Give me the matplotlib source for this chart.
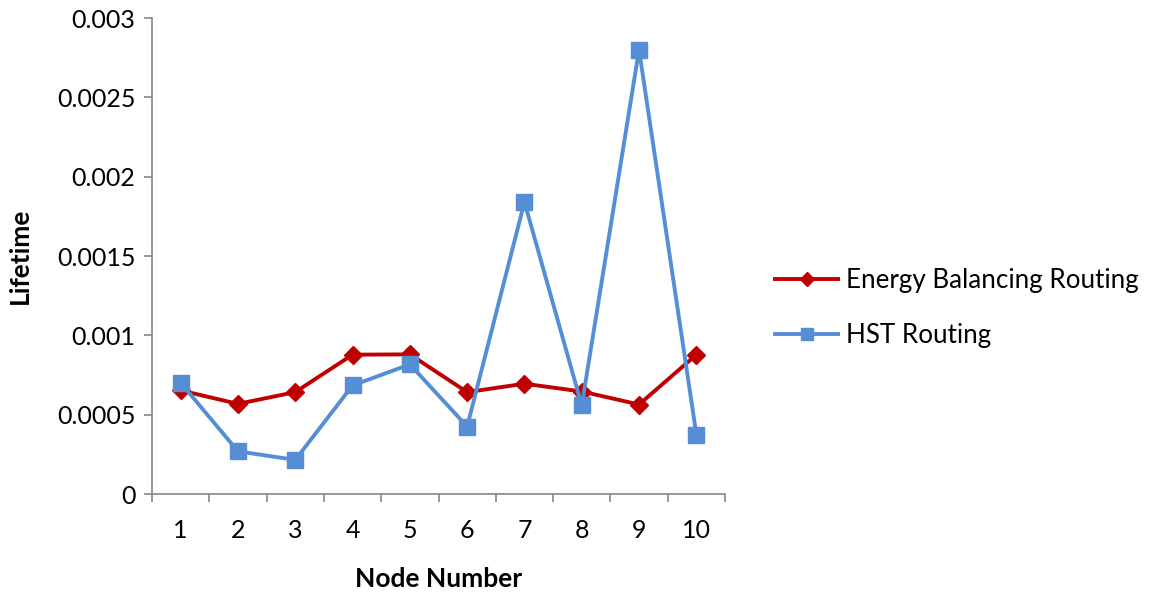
import numpy as np
import matplotlib
matplotlib.use("Agg")
import matplotlib.pyplot as plt
from matplotlib.ticker import FixedLocator, FixedFormatter

# data
nodes = [1, 2, 3, 4, 5, 6, 7, 8, 9, 10]
energy_balancing = [0.000653, 0.000568, 0.000642, 0.000878, 0.00088,
                    0.000642, 0.000695, 0.000646, 0.000564, 0.000878]
hst_routing = [0.000701, 0.000269, 0.000215, 0.000684, 0.000817,
               0.000425, 0.00184, 0.000558, 0.0028, 0.000375]
y_ticks = [0, 0.0005, 0.001, 0.0015, 0.002, 0.0025, 0.003]
y_tick_labels = ["0", "0.0005", "0.001", "0.0015", "0.002", "0.0025", "0.003"]

plt.rcParams['font.family'] = ['Lato', 'DejaVu Sans']

fig = plt.figure(figsize=(11.51, 5.92), dpi=100)
ax = fig.add_axes([152/1151, 98/592, (725-152)/1151, (494-18)/592])

red = "#C00000"
blue = "#558ED5"
grey = "#868686"

ax.plot(nodes, energy_balancing, color=red, lw=2.8, marker="D", ms=9,
        label="Energy Balancing Routing")
ax.plot(nodes, hst_routing, color=blue, lw=2.8, marker="s", ms=11,
        label="HST Routing")

ax.set_xlim(0.5, 10.5)
ax.set_ylim(0, 0.003)
ax.yaxis.set_major_locator(FixedLocator(y_ticks))
ax.yaxis.set_major_formatter(FixedFormatter(y_tick_labels))
ax.set_xticks(nodes)
ax.set_xticklabels([str(n) for n in nodes])
ax.set_xticks(np.arange(0.5, 11, 1), minor=True)

ax.tick_params(axis="x", which="major", length=0, pad=18, labelsize=18)
ax.tick_params(axis="x", which="minor", length=6, width=1.2, color=grey, direction="out")
ax.tick_params(axis="y", length=6, width=1.2, color=grey, direction="out", pad=6, labelsize=18)

for side in ["top", "right"]:
    ax.spines[side].set_visible(False)
for side in ["left", "bottom"]:
    ax.spines[side].set_color(grey)
    ax.spines[side].set_linewidth(1.2)

ax.set_xlabel("Node Number", fontsize=19, fontweight="bold", labelpad=18)
ax.set_ylabel("Lifetime", fontsize=19, fontweight="bold", labelpad=18)

leg = fig.legend(loc="center left", bbox_to_anchor=(752/1151, (592-308)/592),
                 frameon=False, fontsize=18.7, handlelength=2.4, labelspacing=1.15,
                 handletextpad=0.3, markerscale=0.75)

fig.savefig("out.png", dpi=100)
